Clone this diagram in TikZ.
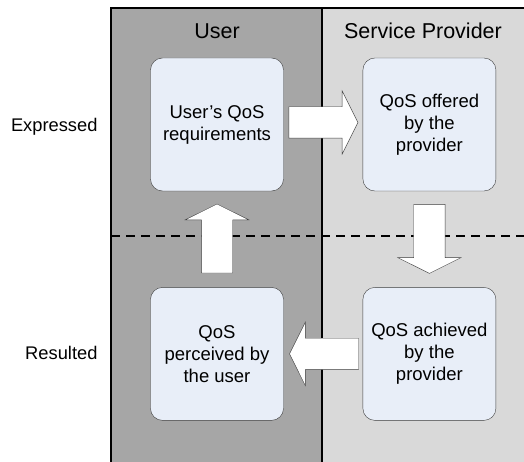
\documentclass[tikz,border=0pt]{standalone}
\usepackage{fontspec}
\setmainfont{Liberation Sans}
\usepackage{xcolor}
\usepackage{tikz}
\usetikzlibrary{shapes.arrows, positioning, calc}
\definecolor{UserGray}{RGB}{166,166,166}
\definecolor{ProvGray}{RGB}{217,217,217}
\definecolor{BoxFill}{RGB}{232,238,248}
\definecolor{BoxLine}{RGB}{60,60,60}
\tikzset{
    qosbox/.style={
        draw=BoxLine, fill=BoxFill, rounded corners=12pt, minimum size=133pt,
        align=center, inner sep=0pt, font=\fontsize{18.5}{22}\selectfont
    },
    blockarrow/.style={
        single arrow, draw=BoxLine, fill=white, inner sep=15.5pt,
        minimum height=69pt,
        single arrow head extend=16pt, single arrow tip angle=127
    },
    headlabel/.style={
        font=\fontsize{21.5}{24}\selectfont
    },
    sidelabel/.style={
        anchor=east, font=\fontsize{18.3}{22}\selectfont
    }
}

\begin{document}
\begin{tikzpicture}[x=1pt, y=-1pt]
    \useasboundingbox (0,0) rectangle (524,462);
    % swim lanes
    \fill[UserGray] (111,8) rectangle (322,462);
    \fill[ProvGray] (322,8) rectangle (524,462);
    \draw[line width=2pt] (111,462) -- (111,8) -- (524,8);
    \draw[line width=1.5pt] (322,8) -- (322,462);
    \draw[line width=1.5pt, dash pattern=on 9pt off 6pt] (111,236) -- (524,236);
    \node[headlabel] (user) at (217,31) {User};
    \node[headlabel] (prov) at (423,31) {Service Provider};
    \node[sidelabel] (expr) at (101,127) {Expressed};
    \node[sidelabel] (res) at (101,353) {Resulted};
    % boxes
    \node[qosbox] (req) at (217,124.5) {User's QoS\\requirements};
    \node[qosbox, right=79pt of req] (off) {QoS offered\\by the\\provider};
    \node[qosbox, below=96pt of off] (ach) {QoS achieved\\by the\\provider};
    \node[qosbox, below=96pt of req] (perc) {QoS\\perceived by\\the user};
    % flow
    \node[blockarrow, right=5pt of req, anchor=tail, yshift=2pt] (a1) {};
    \node[blockarrow, shape border rotate=270, below=13pt of off, anchor=tail] (a2) {};
    \node[blockarrow, shape border rotate=180, left=4pt of ach, anchor=tail] (a3) {};
    \node[blockarrow, shape border rotate=90, above=14pt of perc, anchor=tail] (a4) {};
\end{tikzpicture}
\end{document}
